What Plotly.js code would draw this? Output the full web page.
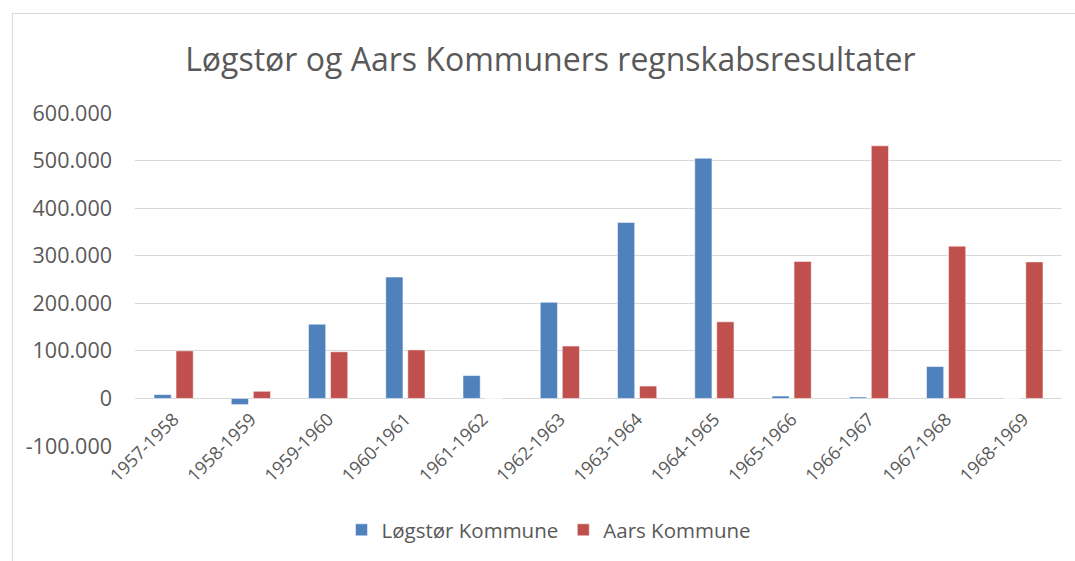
<!DOCTYPE html>
<html>
<head>
<meta charset="utf-8">
<script src="https://cdn.plot.ly/plotly-3.0.1.min.js"></script>
<style>
  html, body { margin: 0; padding: 0; background: #ffffff; overflow: hidden; }
  #chart { width: 1075px; height: 561px; position: absolute; left: 0; top: 0; }
  #frame { position: absolute; left: 12px; top: 13px; width: 1100px; height: 600px; border: 1px solid #d9d9d9; pointer-events: none; }
</style>
</head>
<body>
<div id="chart"></div>
<div id="frame"></div>
<script>
const categories = ["1957-1958","1958-1959","1959-1960","1960-1961","1961-1962","1962-1963",
                    "1963-1964","1964-1965","1965-1966","1966-1967","1967-1968","1968-1969"];
const loegstoer = [8000, -13000, 156000, 255000, 48000, 202000, 370000, 505000, 5000, 3000, 67000, 0];
const aars = [100000, 15000, 98000, 102000, 0, 110000, 26000, 161000, 288000, 531000, 320000, 287000];
const yTickVals = [-100000, 0, 100000, 200000, 300000, 400000, 500000, 600000];
const yTickText = ["-100.000", "0", "100.000", "200.000", "300.000", "400.000", "500.000", "600.000"];

const fontFam = "Open Sans, Liberation Sans, sans-serif";
const txt = "#595959";
const yMin = -100000, yMax = 600000;

const data = [
  { type: "bar", name: "Løgstør Kommune", x: categories, y: loegstoer,
    marker: { color: "#4f81bd", line: { color: "#ffffff", width: 0.5 } }, hoverinfo: "x+y" },
  { type: "bar", name: "Aars Kommune", x: categories, y: aars,
    marker: { color: "#c0504d", line: { color: "#ffffff", width: 0.5 } }, hoverinfo: "x+y" }
];

const layout = {
  width: 1075, height: 561,
  margin: { l: 135, r: 13, t: 113, b: 115 },
  paper_bgcolor: "rgba(0,0,0,0)", plot_bgcolor: "rgba(0,0,0,0)",
  font: { family: fontFam, color: txt },
  title: { text: "Løgstør og Aars Kommuners regnskabsresultater",
           font: { family: fontFam, size: 32, color: txt },
           xref: "container", x: 0.512, xanchor: "center",
           yref: "container", y: 1 - 60/561, yanchor: "middle" },
  barmode: "group", bargap: 0.43, bargroupgap: 0.22,
  xaxis: { type: "category", tickangle: -45, showgrid: false, showline: false, zeroline: false,
           anchor: "free", position: (0 - yMin) / (yMax - yMin),
           ticklabelstandoff: 6,
           tickfont: { size: 18, color: txt }, ticks: "" },
  yaxis: { range: [yMin, yMax], tickvals: yTickVals, ticktext: yTickText,
           showgrid: true, gridcolor: "#d9d9d9", gridwidth: 1,
           zeroline: true, zerolinecolor: "#d9d9d9", zerolinewidth: 1,
           showline: false, ticks: "", ticklabelstandoff: 22,
           tickfont: { size: 21.5, color: txt } },
  legend: { orientation: "h", xref: "container", yref: "container",
            x: 0.5107, xanchor: "center", y: 1 - 530/561, yanchor: "middle",
            font: { size: 20.5, color: txt }, itemwidth: 30, traceorder: "normal" },
  showlegend: true
};

Plotly.newPlot("chart", data, layout, { displayModeBar: false, staticPlot: true });
</script>
</body>
</html>
